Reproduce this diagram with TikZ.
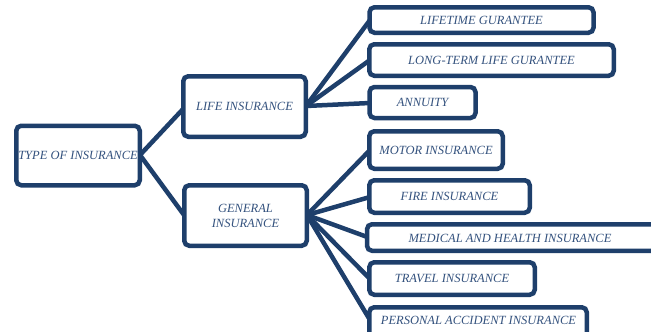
\documentclass[tikz,border=0pt]{standalone}
\usepackage{fontspec}
\setmainfont{Liberation Serif}
\definecolor{boxblue}{HTML}{1E3F6B}
\definecolor{txtblue}{HTML}{34527E}
\begin{document}
\begin{tikzpicture}[x=1pt,y=-1pt,
  lbl/.style={font=\itshape\fontsize{12.5}{15}\selectfont,text=txtblue,align=center},
  bx/.style={lbl,draw=boxblue,line width=4.5pt,rounded corners=5pt,fill=white,inner sep=0pt},
  conn/.style={draw=boxblue,line width=4.5pt}]
\useasboundingbox (0,0) rectangle (651,332);
% connector anchor points
\coordinate (tR) at (140,155);
\coordinate (lL) at (184,108);
\coordinate (gL) at (184,215);
\coordinate (lR) at (306,106);
\coordinate (gR) at (307,215);
\coordinate (c1) at (370,20);
\coordinate (c2) at (370,60);
\coordinate (c3) at (370,103);
\coordinate (c4) at (370,150);
\coordinate (c5) at (370,197);
\coordinate (c6) at (370,238);
\coordinate (c7) at (370,279);
\coordinate (c8) at (370,320);
% connectors (drawn first, boxes cover ends)
\draw[conn] (tR) -- (lL);
\draw[conn] (tR) -- (gL);
\foreach \c in {c1,c2,c3} \draw[conn] (lR) -- (\c);
\foreach \c in {c4,c5,c6,c7,c8} \draw[conn] (gR) -- (\c);
% boxes
\node[bx,minimum width=123.5pt,minimum height=59.5pt] (type) at (78,155.5) {TYPE OF INSURANCE};
\node[bx,minimum width=122.5pt,minimum height=60.5pt] (life) at (244.5,106.5) {LIFE INSURANCE};
\node[bx,minimum width=122.5pt,minimum height=60.5pt] (gen) at (245.5,215.5) {GENERAL\\INSURANCE};
\node[bx,minimum width=224pt,minimum height=25.5pt] (lt) at (481.5,20) {LIFETIME GURANTEE};
\node[bx,minimum width=244.5pt,minimum height=31.5pt] (ltl) at (491.5,60) {LONG-TERM LIFE GURANTEE};
\node[bx,minimum width=106pt,minimum height=31pt] (ann) at (422.5,102.5) {ANNUITY};
\node[bx,minimum width=133.5pt,minimum height=37.5pt] (mot) at (436,150) {MOTOR INSURANCE};
\node[bx,minimum width=160.5pt,minimum height=32.5pt] (fire) at (449.5,196.5) {FIRE INSURANCE};
\node[bx,minimum width=300pt,minimum height=26.5pt] (med) at (517,237.5) {};
\node[lbl] (medt) at (510,238) {MEDICAL AND HEALTH INSURANCE};
\node[bx,minimum width=165.5pt,minimum height=32.5pt] (trav) at (452,278.5) {TRAVEL INSURANCE};
\node[bx,minimum width=217.5pt,minimum height=33pt,anchor=north] (pers) at (478,305) {};
\node[lbl] (perst) at (478.5,320) {PERSONAL ACCIDENT INSURANCE};
\end{tikzpicture}
\end{document}
